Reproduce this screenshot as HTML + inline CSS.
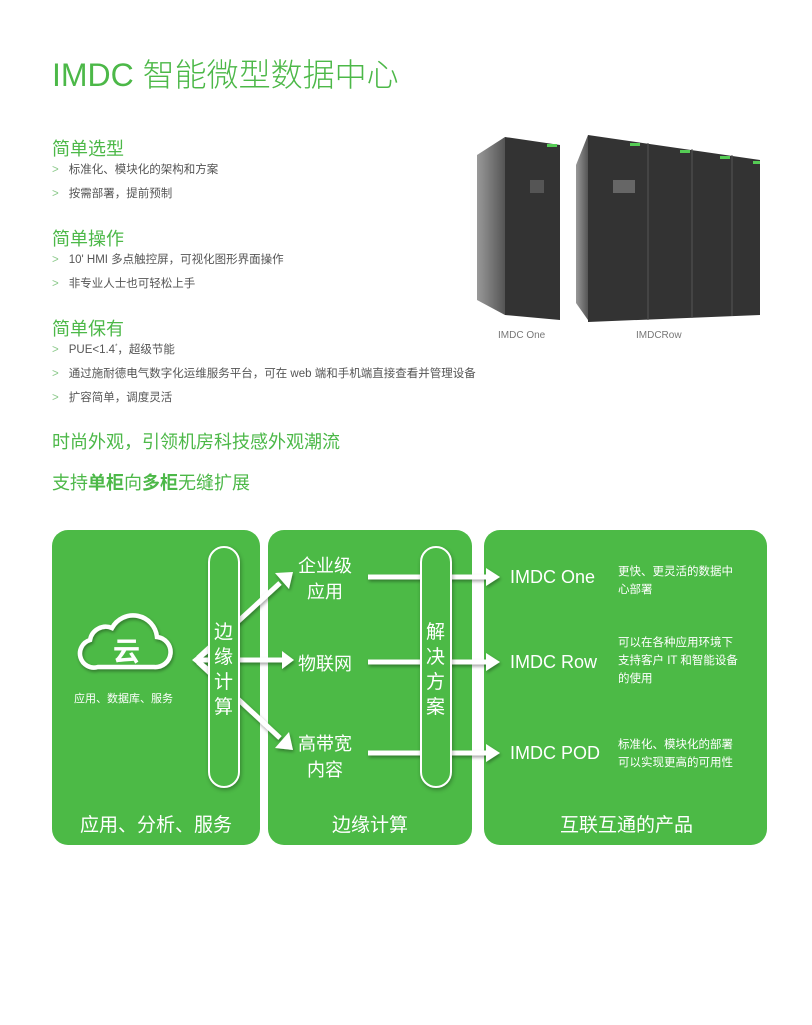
<!DOCTYPE html>
<html><head><meta charset="utf-8"><style>
*{margin:0;padding:0;box-sizing:border-box}
body{width:812px;height:1025px;background:#fff;position:relative;overflow:hidden;font-family:"Liberation Sans","Noto Sans CJK SC",sans-serif}
.a{position:absolute;white-space:nowrap}
.g{color:#4cb848}
.h{font-size:18px;color:#4cb848}
.b{font-size:11.5px;color:#555}
.b span{color:#8bc98a;margin-right:10px}
.w{color:#fff}
.panel{position:absolute;background:#4cba46;border-radius:16px}
.pill{position:absolute;border:2px solid #fff;border-radius:16px;box-shadow:1px 2px 4px rgba(0,0,0,.3)}
</style></head><body>
<div class="a g" style="left:52px;top:50px;font-size:32px;font-weight:300">IMDC 智能微型数据中心</div>

<div class="a h" style="left:52px;top:135px">简单选型</div>
<div class="a b" style="left:52px;top:161px"><span>&gt;</span>标准化、模块化的架构和方案</div>
<div class="a b" style="left:52px;top:185px"><span>&gt;</span>按需部署，提前预制</div>
<div class="a h" style="left:52px;top:225px">简单操作</div>
<div class="a b" style="left:52px;top:251px"><span>&gt;</span>10' HMI 多点触控屏，可视化图形界面操作</div>
<div class="a b" style="left:52px;top:275px"><span>&gt;</span>非专业人士也可轻松上手</div>
<div class="a h" style="left:52px;top:315px">简单保有</div>
<div class="a b" style="left:52px;top:341px"><span>&gt;</span>PUE&lt;1.4<sup style="font-size:6px">*</sup>，超级节能</div>
<div class="a b" style="left:52px;top:365px"><span>&gt;</span>通过施耐德电气数字化运维服务平台，可在 web 端和手机端直接查看并管理设备</div>
<div class="a b" style="left:52px;top:389px"><span>&gt;</span>扩容简单，调度灵活</div>
<div class="a h" style="left:52px;top:428px">时尚外观，引领机房科技感外观潮流</div>
<div class="a h" style="left:52px;top:469px">支持<b>单柜</b>向<b>多柜</b>无缝扩展</div>

<svg class="a" style="left:470px;top:125px" width="300" height="205">
<defs><linearGradient id="s" x1="0" x2="1"><stop offset="0" stop-color="#999"/><stop offset="1" stop-color="#555"/></linearGradient></defs>
<polygon points="7,30 35,12 35,190 7,175" fill="url(#s)"/>
<polygon points="35,12 90,20 90,195 35,190" fill="#333"/>
<rect x="60" y="55" width="14" height="13" fill="#555"/>
<rect x="77" y="19" width="10" height="3" fill="#5c5"/>
<polygon points="106,40 118,10 118,195 106,178" fill="url(#s)"/>
<polygon points="118,10 290,35 290,190 118,197" fill="#333"/>
<line x1="178" y1="18" x2="178" y2="195" stroke="#555"/>
<line x1="222" y1="24" x2="222" y2="193" stroke="#555"/>
<line x1="262" y1="30" x2="262" y2="191" stroke="#555"/>
<rect x="143" y="55" width="22" height="13" fill="#666"/>
<rect x="160" y="18" width="10" height="3" fill="#5c5"/><rect x="210" y="25" width="10" height="3" fill="#5c5"/><rect x="250" y="31" width="10" height="3" fill="#5c5"/><rect x="283" y="36" width="7" height="3" fill="#5c5"/>
</svg>
<div class="a" style="left:498px;top:330px;font-size:10px;color:#777">IMDC One</div>
<div class="a" style="left:636px;top:330px;font-size:10px;color:#777">IMDCRow</div>

<div class="panel" style="left:52px;top:530px;width:208px;height:315px"></div>
<div class="panel" style="left:268px;top:530px;width:204px;height:315px"></div>
<div class="panel" style="left:484px;top:530px;width:283px;height:315px"></div>

<svg class="a" style="left:0;top:0" width="812" height="1025">
<defs><filter id="sh"><feDropShadow dx="1" dy="2" stdDeviation="1.5" flood-opacity=".35"/></filter></defs>
<g filter="url(#sh)" fill="#fff" stroke="#fff">
<path d="M98,667 h56 a15,15 0 0 0 3,-30 a24,24 0 0 0 -45,-9 a16,16 0 0 0 -22,12 a13.5,13.5 0 0 0 8,27 z" fill="none" stroke-width="4.5"/>
<line x1="196" y1="660" x2="282" y2="660" stroke-width="5"/>
<polygon points="282,651 294,660 282,669" stroke="none"/>
<polyline points="212,647 196,660 212,673" fill="none" stroke-width="5"/>
<line x1="198" y1="658" x2="280" y2="583" stroke-width="5"/>
<polygon points="275,573 293,572 289,589" stroke="none"/>
<line x1="198" y1="662" x2="280" y2="738" stroke-width="5"/>
<polygon points="275,748 293,750 289,732" stroke="none"/>
<line x1="368" y1="577" x2="488" y2="577" stroke-width="5"/><polygon points="486,568 500,577 486,586" stroke="none"/>
<line x1="368" y1="662" x2="488" y2="662" stroke-width="5"/><polygon points="486,653 500,662 486,671" stroke="none"/>
<line x1="368" y1="753" x2="488" y2="753" stroke-width="5"/><polygon points="486,744 500,753 486,762" stroke="none"/>
</g>
</svg>
<div class="pill" style="left:208px;top:546px;width:32px;height:242px;background:#4cba46"></div>
<div class="pill" style="left:420px;top:546px;width:32px;height:242px;background:#4cba46"></div>
<div class="a w" style="left:113px;top:630px;font-size:27px;font-weight:bold;color:#fff">云</div>
<div class="a w" style="left:74px;top:690px;font-size:11px">应用、数据库、服务</div>
<div class="a w" style="left:214px;top:620px;font-size:19px;line-height:25px;white-space:normal;width:20px">边缘计算</div>
<div class="a w" style="left:426px;top:620px;font-size:19px;line-height:25px;white-space:normal;width:20px">解决方案</div>
<div class="a w" style="left:298px;top:553px;font-size:18px;line-height:26px;text-align:center">企业级<br>应用</div>
<div class="a w" style="left:298px;top:650px;font-size:18px">物联网</div>
<div class="a w" style="left:298px;top:731px;font-size:18px;line-height:26px;text-align:center">高带宽<br>内容</div>
<div class="a w" style="left:80px;top:810px;font-size:19px">应用、分析、服务</div>
<div class="a w" style="left:332px;top:810px;font-size:19px">边缘计算</div>
<div class="a w" style="left:560px;top:810px;font-size:19px">互联互通的产品</div>
<div class="a w" style="left:510px;top:567px;font-size:18px">IMDC One</div>
<div class="a w" style="left:510px;top:652px;font-size:18px">IMDC Row</div>
<div class="a w" style="left:510px;top:743px;font-size:18px">IMDC POD</div>
<div class="a w" style="left:618px;top:563px;font-size:11.5px;line-height:18px">更快、更灵活的数据中<br>心部署</div>
<div class="a w" style="left:618px;top:634px;font-size:11.5px;line-height:18px">可以在各种应用环境下<br>支持客户 IT 和智能设备<br>的使用</div>
<div class="a w" style="left:618px;top:736px;font-size:11.5px;line-height:18px">标准化、模块化的部署<br>可以实现更高的可用性</div>
</body></html>
